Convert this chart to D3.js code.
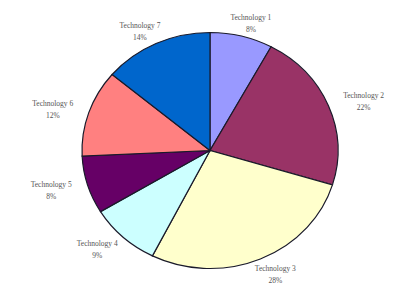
<!DOCTYPE html>
<html>
<head>
<meta charset="utf-8">
<script src="https://cdn.jsdelivr.net/npm/d3@7"></script>
<style>
  body { margin: 0; background: #fff; }
</style>
</head>
<body>
<div id="chart"></div>
<script>
// data
var categories = ["Technology 1", "Technology 2", "Technology 3", "Technology 4", "Technology 5", "Technology 6", "Technology 7"];
var shares = [8, 22, 28, 9, 8, 12, 14];
var shareLabels = ["8%", "22%", "28%", "9%", "8%", "12%", "14%"];
var colors = ["#9999ff", "#993366", "#ffffcc", "#ccffff", "#660066", "#ff8080", "#0066cc"];

var width = 393, height = 293;
var cx = 210, cy = 150.5, rx = 128, ry = 118;

var svg = d3.select("#chart").append("svg")
    .attr("width", width)
    .attr("height", height);

var data = categories.map(function(c, i) { return {name: c, value: shares[i], label: shareLabels[i]}; });

var pie = d3.pie().sort(null).value(function(d) { return d.value; });
var arc = d3.arc().innerRadius(0).outerRadius(rx);

var arcs = pie(data);

// pie is a bit squashed vertically
var g = svg.append("g")
    .attr("transform", "translate(" + cx + "," + cy + ") scale(1," + (ry / rx) + ")");

g.selectAll("path")
    .data(arcs)
  .enter().append("path")
    .attr("d", arc)
    .attr("fill", function(d, i) { return colors[i]; })
    .attr("stroke", "#1a1a2a")
    .attr("stroke-width", 1.2)
    .attr("vector-effect", "non-scaling-stroke");

// labels outside the pie
var labels = svg.append("g")
    .attr("font-family", "'Liberation Serif', 'DejaVu Serif', serif")
    .attr("font-size", "7.5px")
    .attr("fill", "#555");

arcs.forEach(function(d) {
  var a = (d.startAngle + d.endAngle) / 2;
  var x = cx + Math.sin(a) * (rx + 14) + Math.sin(a) * 24;
  var y = cy - Math.cos(a) * (ry + 10) - Math.cos(a) * 5;
  var t = labels.append("text")
      .attr("text-anchor", "middle")
      .attr("x", x)
      .attr("y", y - 2);
  t.append("tspan").attr("x", x).attr("dy", 0).text(d.data.name);
  t.append("tspan").attr("x", x).attr("dy", 12).text(d.data.label);
});
</script>
</body>
</html>
